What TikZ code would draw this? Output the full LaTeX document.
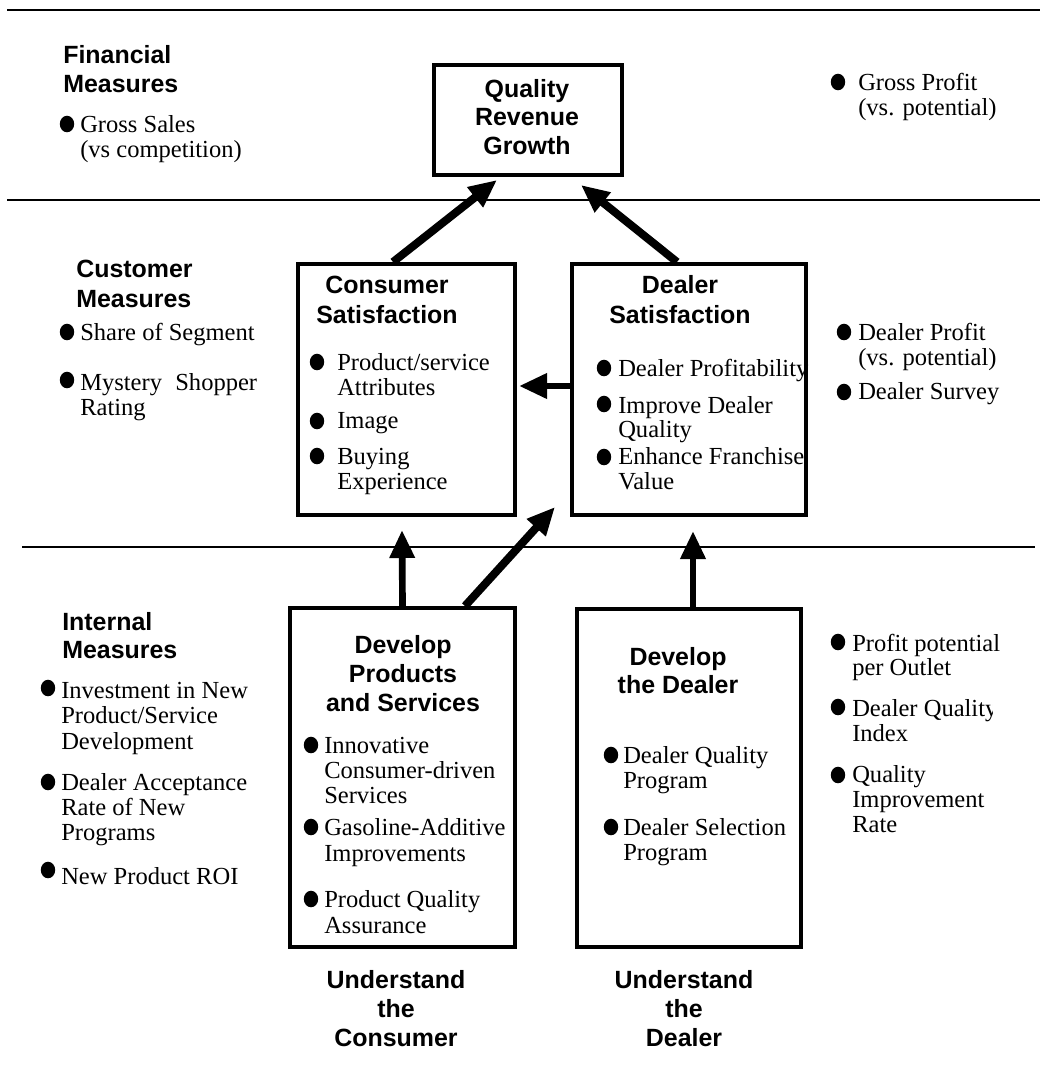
\documentclass[tikz,border=0pt]{standalone}
\usepackage{fontspec}
\setmainfont{Liberation Serif}
\newfontfamily\hsans{Liberation Sans}
\usetikzlibrary{arrows.meta,calc,fit}
\newcommand\linesL[2]{\vtop{\baselineskip=#1\lineskiplimit=-30pt\halign{##\hfil\cr#2\crcr}}}
\newcommand\linesC[2]{\vtop{\baselineskip=#1\lineskiplimit=-30pt\halign{\hfil##\hfil\cr#2\crcr}}}
\begin{document}
\begin{tikzpicture}[x=0.75pt,y=-0.75pt,
  sr/.style={font=\fontsize{18.4pt}{18.75pt}\selectfont, inner sep=0pt, anchor=base west},
  hd/.style={font={\fontsize{18.7pt}{21.75pt}\hsans\bfseries}, inner sep=0pt},
  hdl/.style={hd, anchor=base west},
  hdc/.style={hd, anchor=base},
  box/.style={draw, line width=3pt, inner sep=0pt},
  rulel/.style={line width=1.5pt},
  arr/.style={-{Triangle[length=21pt,width=18pt]}, line width=5pt},
  darr/.style={arr, line width=6pt},
  dot/.style={fill=black}]
\useasboundingbox (0,0) rectangle (1040,1068);
\fill[white] (0,0) rectangle (1040,1068);

% section rules
\draw[rulel] (7,10) -- (1040,10);
\draw[rulel] (7,200) -- (1040,200);
\draw[rulel] (22,547) -- (1035,547);

% ---------- Financial ----------
\node[hdl] (fin) at (63,63) {\linesL{21.75pt}{Financial\cr Measures}};
\fill[dot] (67,124) ellipse [x radius=5.4pt, y radius=6.2pt];
\node[sr] (gs) at (80,132) {\linesL{18.75pt}{Gross Sales\cr (vs competition)}};
\node[hdc] (qrgt) at (527,97) {\linesC{21.4pt}{Quality\cr Revenue\cr Growth}};
\fill[dot] (838,82) ellipse [x radius=5.4pt, y radius=6.2pt];
\node[sr] (gp) at (858,90) {\linesL{18.75pt}{Gross Profit\cr (vs. potential)}};

% ---------- Customer ----------
\node[hdl] (cust) at (76,277) {\linesL{22.5pt}{Customer\cr Measures}};
\fill[dot] (67,332) ellipse [x radius=5.4pt, y radius=6.2pt];
\node[sr] (sos) at (80,340) {Share of Segment};
\fill[dot] (67,380) ellipse [x radius=5.4pt, y radius=6.2pt];
\node[sr] (msr) at (80,390) {\linesL{18.75pt}{Mystery\hspace{10pt}Shopper\cr Rating}};

\node[hdc] (cst) at (387,293) {\linesC{22.5pt}{Consumer\cr Satisfaction}};
\fill[dot] (317,362) ellipse [x radius=5.4pt, y radius=6.2pt];
\node[sr] (psa) at (337,370) {\linesL{18.75pt}{Product/service\cr Attributes}};
\fill[dot] (317,421) ellipse [x radius=5.4pt, y radius=6.2pt];
\node[sr] (img) at (337,428) {Image};
\fill[dot] (317,456) ellipse [x radius=5.4pt, y radius=6.2pt];
\node[sr] (bex) at (337,464) {\linesL{18.75pt}{Buying\cr Experience}};

\node[hdc] (dst) at (680,293) {\linesC{22.5pt}{Dealer\cr Satisfaction}};
\fill[dot] (604,368) ellipse [x radius=5.4pt, y radius=6.2pt];
\node[sr] (dpr) at (618,376) {Dealer Profitability};
\fill[dot] (604,404) ellipse [x radius=5.4pt, y radius=6.2pt];
\node[sr] (idq) at (618,413) {\linesL{18pt}{Improve Dealer\cr Quality}};
\fill[dot] (604,457) ellipse [x radius=5.4pt, y radius=6.2pt];
\node[sr] (efv) at (618,464) {\linesL{18.75pt}{Enhance Franchise\cr Value}};

\fill[dot] (844,332) ellipse [x radius=5.4pt, y radius=6.2pt];
\node[sr] (dpp) at (858,340) {\linesL{18.75pt}{Dealer Profit\cr (vs. potential)}};
\fill[dot] (844,392) ellipse [x radius=5.4pt, y radius=6.2pt];
\node[sr] (dsu) at (858,399) {Dealer Survey};

% ---------- Internal ----------
\node[hdl] (intm) at (62,630) {\linesL{21pt}{Internal\cr Measures}};
\fill[dot] (48,688) ellipse [x radius=5.4pt, y radius=6.2pt];
\node[sr] (inv) at (61,698) {\linesL{19.2pt}{Investment in New\cr Product/Service\cr Development}};
\fill[dot] (48,782) ellipse [x radius=5.4pt, y radius=6.2pt];
\node[sr] (dar) at (61,790) {\linesL{18.75pt}{Dealer Acceptance\cr Rate of New\cr Programs}};
\fill[dot] (48,870) ellipse [x radius=5.4pt, y radius=6.2pt];
\node[sr] (npr) at (61,884) {New Product ROI};

\node[hdc] (dpt) at (403,653) {\linesC{21.75pt}{Develop\cr Products\cr and Services}};
\fill[dot] (311,745) ellipse [x radius=5.4pt, y radius=6.2pt];
\node[sr] (ics) at (324,753) {\linesL{19pt}{Innovative\cr Consumer-driven\cr Services}};
\fill[dot] (311,827) ellipse [x radius=5.4pt, y radius=6.2pt];
\node[sr] (gai) at (324,835) {\linesL{19.5pt}{Gasoline-Additive\cr Improvements}};
\fill[dot] (311,899) ellipse [x radius=5.4pt, y radius=6.2pt];
\node[sr] (pqa) at (324,907) {\linesL{19.5pt}{Product Quality\cr Assurance}};

\node[hdc] (ddt) at (678,665) {\linesC{21pt}{Develop\cr the Dealer}};
\fill[dot] (611,755) ellipse [x radius=5.4pt, y radius=6.2pt];
\node[sr] (dqp) at (623,763) {\linesL{18.75pt}{Dealer Quality\cr Program}};
\fill[dot] (611,827) ellipse [x radius=5.4pt, y radius=6.2pt];
\node[sr] (dsp) at (623,835) {\linesL{18.75pt}{Dealer Selection\cr Program}};

\fill[dot] (838,642) ellipse [x radius=5.4pt, y radius=6.2pt];
\node[sr] (ppo) at (852,651) {\linesL{18pt}{Profit potential\cr per Outlet}};
\fill[dot] (838,707) ellipse [x radius=5.4pt, y radius=6.2pt];
\begin{scope}
  \clip (840,680) rectangle (992,760);
  \node[sr] (dqi) at (852,716) {\linesL{18.75pt}{Dealer Quality\cr Index}};
\end{scope}
\fill[dot] (838,775) ellipse [x radius=5.4pt, y radius=6.2pt];
\node[sr] (qir) at (852,782) {\linesL{19pt}{Quality\cr Improvement\cr Rate}};

% ---------- bottom labels ----------
\node[hdc] (utc) at (396,988) {\linesC{22pt}{Understand\cr the\cr Consumer}};
\node[hdc] (utd) at (684,988) {\linesC{22pt}{Understand\cr the\cr Dealer}};

% ---------- boxes ----------
\node[box, fit={(434,65) (622,175)}] (qrg) {};
\node[box, fit={(298,264) (515,515)}] (cs) {};
\node[box, fit={(572,264) (806,515)}] (ds) {};
\node[box, fit={(290,608) (515,947)}] (dp) {};
\node[box, fit={(577,609) (801,947)}] (dd) {};

% ---------- arrows ----------
\draw[darr] ($(cs.north)+(-13.5,0)$) -- ($(qrg.south)+(-31,3)$);
\draw[darr] ($(ds.north)+(-12,0)$) -- ($(qrg.south)+(53,8)$);
\draw[arr] ($(ds.west)+(0,-3.5)$) -- ($(cs.east)+(2,-3.5)$);
\draw[arr] ($(dp.north)+(0,0)$) -- ($(cs.south)+(-4.5,13)$);
\draw[darr] ($(dp.north)+(62.5,0)$) -- ($(ds.south west)+(-15,-10)$);
\draw[arr] ($(dd.north)+(4,0)$) -- ($(ds.south)+(4,14)$);
\end{tikzpicture}
\end{document}
